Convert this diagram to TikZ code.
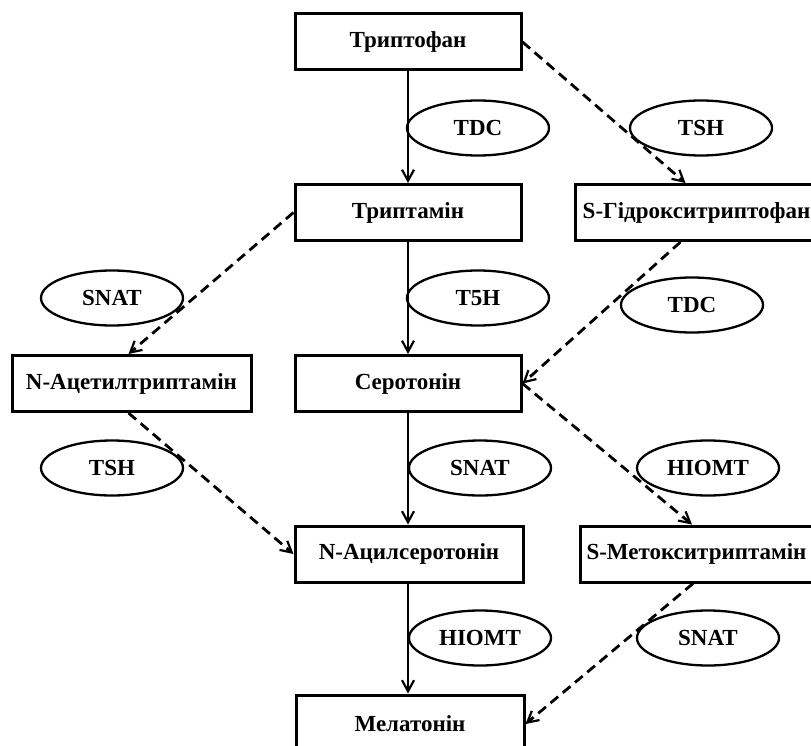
\documentclass[tikz,border=0pt]{standalone}
\usepackage{fontspec}
\setmainfont{Liberation Serif}
\usetikzlibrary{arrows.meta,shapes.geometric}
\begin{document}
\begin{tikzpicture}[x=1pt,y=-1pt,
  font=\fontsize{23}{27}\selectfont\bfseries,
  box/.style={draw,line width=3pt,rectangle,minimum height=56pt,inner sep=0pt},
  enz/.style={draw,line width=2.3pt,ellipse,minimum width=142pt,minimum height=55pt,inner sep=0pt},
  main/.style={line width=2.8pt,-{Straight Barb[length=11pt,width=12pt,line width=2.2pt]}},
  side/.style={main,dash pattern=on 10pt off 6pt}]
\useasboundingbox (0,0) rectangle (811,746);
\node[box,minimum width=226pt] (trp) at (408,42) {Триптофан};
\node[box,minimum width=226pt] (tra) at (408,212.5) {Триптамін};
\node[box,minimum width=226pt] (ser) at (408,383.5) {Серотонін};
\node[box,minimum width=228pt] (nas) at (409,554) {N-Ацилсеротонін};
\node[box,minimum width=228pt,minimum height=58pt] (mel) at (410,724) {Мелатонін};
\node[box,minimum width=243pt] (hyd) at (696.5,212.5) {S-Гідрокситриптофан};
\node[box,anchor=west,text width=240pt,align=left,inner xsep=6pt] (met) at (579,554) {S-Метокситриптамін};
\node[box,minimum width=239pt] (nat) at (131.5,383.5) {N-Ацетилтриптамін};

\node[enz] (e1) at (478,128) {TDC};
\node[enz] (e2) at (701,128) {TSH};
\node[enz] (e3) at (112,298) {SNAT};
\node[enz] (e4) at (478,298) {T5H};
\node[enz] (e5) at (692,305) {TDC};
\node[enz] (e6) at (112,468) {TSH};
\node[enz] (e7) at (480,468) {SNAT};
\node[enz] (e8) at (708,468) {HIOMT};
\node[enz] (e9) at (480,638) {HIOMT};
\node[enz] (e10) at (708,638) {SNAT};

\draw[main] (trp.south) -- (tra.north);
\draw[main] (tra.south) -- (ser.north);
\draw[main] (ser.south) -- (ser.south |- nas.north);
\draw[main] (ser.south |- nas.south) -- (ser.south |- mel.north);

\draw[side] (trp.east) -- ([xshift=-11pt]hyd.north);
\draw[side] (tra.west) -- ([xshift=-3pt]nat.north);
\draw[side] ([xshift=-16pt]hyd.south) -- (ser.east);
\draw[side] (ser.east) -- ([xshift=113pt]met.north west);
\draw[side] ([xshift=-3pt]nat.south) -- (nas.west);
\draw[side] ([xshift=114pt]met.south west) -- (mel.east);
\end{tikzpicture}
\end{document}
